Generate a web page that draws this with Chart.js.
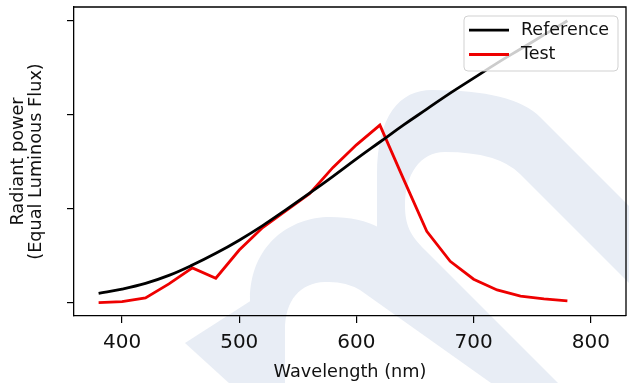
<!DOCTYPE html>
<html>
<head>
<meta charset="utf-8">
<script src="https://cdn.jsdelivr.net/npm/chart.js@4/dist/chart.umd.min.js"></script>
<style>
  html, body { margin: 0; padding: 0; background: #ffffff; }
  #wrap { width: 629px; height: 383px; position: relative; }
</style>
</head>
<body>
<div id="wrap"><canvas id="chart" width="629" height="383"></canvas></div>
<script>
// Wavelength grid (nm)
const wavelengths = [380, 400, 420, 440, 460, 480, 500, 520, 540, 560, 580,
                     600, 620, 640, 660, 680, 700, 720, 740, 760, 780];

// Relative radiant power of the two spectra at equal luminous flux
const referencePower = [0.10, 0.145, 0.205, 0.29, 0.40, 0.525, 0.665, 0.82, 0.99, 1.165, 1.345,
                        1.53, 1.71, 1.89, 2.06, 2.23, 2.39, 2.55, 2.70, 2.85, 3.00];
const testPower = [0.00, 0.01, 0.05, 0.20, 0.37, 0.26, 0.56, 0.80, 0.98, 1.16, 1.44,
                   1.68, 1.89, 1.32, 0.76, 0.44, 0.25, 0.135, 0.07, 0.04, 0.02];

const xTicks = [400, 500, 600, 700, 800];
const yTicks = [0, 1, 2, 3];

const seriesNames = ['Reference', 'Test'];
const seriesColors = ['#000000', '#ee0000'];

const FONT = "'DejaVu Sans', 'Liberation Sans', sans-serif";

function toPoints(xs, ys) {
  return xs.map((x, i) => ({ x: x, y: ys[i] }));
}

// Pale logo shape behind the plot
const backdrop = {
  id: 'backdrop',
  beforeDraw(chart) {
    const ctx = chart.ctx;
    ctx.save();
    ctx.fillStyle = '#ffffff';
    ctx.fillRect(0, 0, chart.width, chart.height);
    ctx.fillStyle = '#e8edf5';

    // larger arch, its left side running down into the diagonal band
    ctx.beginPath();
    ctx.moveTo(377, 240);
    ctx.lineTo(377, 175);
    ctx.bezierCurveTo(377, 115, 400, 90, 432, 90);
    ctx.quadraticCurveTo(513, 90, 540, 117);
    ctx.lineTo(700, 277);
    ctx.lineTo(700, 354);
    ctx.lineTo(520, 174);
    ctx.quadraticCurveTo(498, 152, 445, 152);
    ctx.bezierCurveTo(420, 152, 405, 175, 405, 205);
    ctx.bezierCurveTo(405, 225, 410, 235, 425, 250);
    ctx.lineTo(575, 400);
    ctx.lineTo(515, 400);
    ctx.lineTo(377, 262);
    ctx.closePath();
    ctx.fill();

    // smaller arch
    ctx.beginPath();
    ctx.moveTo(250, 400);
    ctx.lineTo(250, 300);
    ctx.bezierCurveTo(250, 245, 290, 217, 330, 217);
    ctx.quadraticCurveTo(360, 217, 380, 228);
    ctx.lineTo(565, 400);
    ctx.lineTo(515, 400);
    ctx.lineTo(360, 290);
    ctx.quadraticCurveTo(345, 281, 325, 282);
    ctx.bezierCurveTo(300, 283, 285, 300, 285, 330);
    ctx.lineTo(285, 400);
    ctx.closePath();
    ctx.fill();

    // pointed foot
    ctx.beginPath();
    ctx.moveTo(185, 343);
    ctx.lineTo(252, 300);
    ctx.lineTo(252, 404);
    ctx.closePath();
    ctx.fill();
    ctx.restore();
  }
};

// Closes the axes box on the top and right sides
const frame = {
  id: 'frame',
  afterDraw(chart) {
    const { ctx, chartArea: a } = chart;
    ctx.save();
    ctx.strokeStyle = '#000000';
    ctx.lineWidth = 1.3;
    ctx.beginPath();
    ctx.moveTo(a.left, a.top);
    ctx.lineTo(a.right, a.top);
    ctx.lineTo(a.right, a.bottom);
    ctx.stroke();
    ctx.restore();
  }
};

// Boxed legend in the upper right corner of the axes
const boxLegend = {
  id: 'boxLegend',
  afterDatasetsDraw(chart) {
    const { ctx, chartArea: a } = chart;
    const w = 154, h = 55;
    const x0 = a.right - 8 - w, y0 = a.top + 9;
    ctx.save();
    ctx.beginPath();
    ctx.roundRect(x0, y0, w, h, 4);
    ctx.fillStyle = 'rgba(255,255,255,0.8)';
    ctx.fill();
    ctx.strokeStyle = 'rgba(204,204,204,0.9)';
    ctx.lineWidth = 1;
    ctx.stroke();
    ctx.font = '17.5px ' + FONT;
    ctx.textBaseline = 'middle';
    ctx.textAlign = 'left';
    chart.data.datasets.forEach((ds, i) => {
      const yy = y0 + 14.2 + i * 24.3;
      ctx.strokeStyle = ds.borderColor;
      ctx.lineWidth = ds.borderWidth;
      ctx.beginPath();
      ctx.moveTo(x0 + 5, yy);
      ctx.lineTo(x0 + 45, yy);
      ctx.stroke();
      ctx.fillStyle = '#111111';
      ctx.fillText(ds.label, x0 + 57, yy);
    });
    ctx.restore();
  }
};

new Chart(document.getElementById('chart'), {
  type: 'line',
  data: {
    datasets: [
      {
        label: seriesNames[0],
        data: toPoints(wavelengths, referencePower),
        borderColor: seriesColors[0],
        borderWidth: 2.8,
        pointRadius: 0,
        tension: 0.4,
        fill: false
      },
      {
        label: seriesNames[1],
        data: toPoints(wavelengths, testPower),
        borderColor: seriesColors[1],
        borderWidth: 2.8,
        pointRadius: 0,
        tension: 0,
        fill: false
      }
    ]
  },
  options: {
    responsive: false,
    animation: false,
    layout: { padding: { top: 7, right: 3, left: 0, bottom: 0 } },
    plugins: {
      legend: { display: false },
      tooltip: { enabled: false }
    },
    scales: {
      x: {
        type: 'linear',
        min: 359,
        max: 830,
        afterBuildTicks: (s) => { s.ticks = xTicks.map(v => ({ value: v })); },
        afterFit: (s) => { s.height = 67; },
        grid: { drawOnChartArea: false, drawTicks: true, tickLength: 7, color: '#000000', lineWidth: 1.2 },
        border: { display: true, color: '#000000', width: 1.3 },
        ticks: {
          color: '#111111',
          font: { family: FONT, size: 20 },
          padding: 8,
          maxRotation: 0
        },
        title: {
          display: true,
          text: 'Wavelength (nm)',
          color: '#111111',
          font: { family: FONT, size: 17.7, lineHeight: 1.2 },
          padding: { top: 0, bottom: 0 }
        }
      },
      y: {
        min: -0.142,
        max: 3.147,
        afterBuildTicks: (s) => { s.ticks = yTicks.map(v => ({ value: v })); },
        afterFit: (s) => { s.width = 74; },
        grid: { drawOnChartArea: false, drawTicks: true, tickLength: 7, color: '#000000', lineWidth: 1.2 },
        border: { display: true, color: '#000000', width: 1.3 },
        ticks: { display: false },
        title: {
          display: true,
          text: ['Radiant power', '(Equal Luminous Flux)'],
          color: '#111111',
          font: { family: FONT, size: 17.7, lineHeight: 1.04 },
          padding: { top: 9, bottom: 0 }
        }
      }
    }
  },
  plugins: [backdrop, frame, boxLegend]
});
</script>
</body>
</html>
